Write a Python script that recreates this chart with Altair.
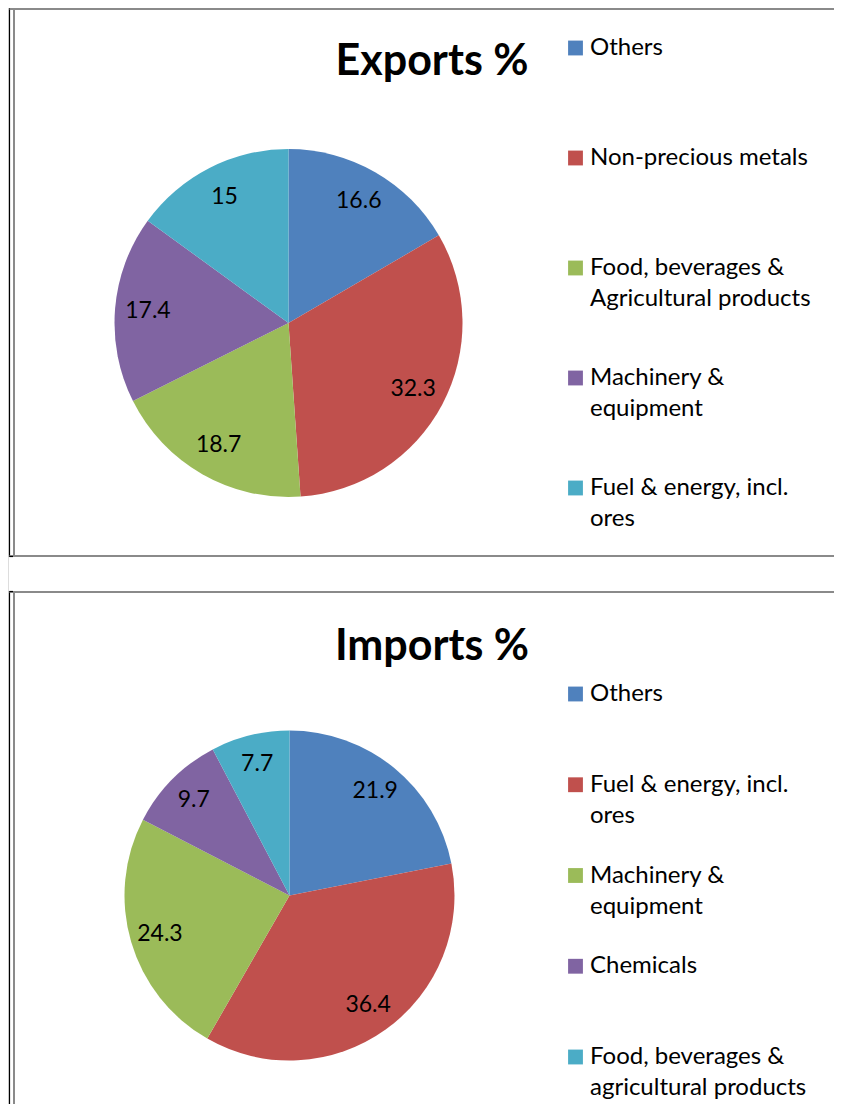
import altair as alt
import pandas as pd

FONT = "Lato"

exp_cats = ["Others", "Non-precious metals", "Food, beverages &\nAgricultural products",
            "Machinery &\nequipment", "Fuel & energy, incl.\nores"]
exp_vals = [16.6, 32.3, 18.7, 17.4, 15]

imp_cats = ["Others", "Fuel & energy, incl.\nores", "Machinery &\nequipment",
            "Chemicals", "Food, beverages &\nagricultural products"]
imp_vals = [21.9, 36.4, 24.3, 9.7, 7.7]

palette = ["#4F81BD", "#C0504D", "#9BBB59", "#8064A2", "#4BACC6"]


def frame(cats, vals):
    return pd.DataFrame({"cat": cats, "val": vals, "idx": list(range(len(cats))),
                         "lab": [f"{v:g}" for v in vals]})


def pie_layers(df, cx, cy, r, lr, title, ty, leg_top, leg_bot):
    color = alt.Color("idx:N", scale=alt.Scale(domain=list(range(5)), range=palette), legend=None)
    base = alt.Chart(df)
    arc = base.mark_arc(outerRadius=r).encode(
        theta=alt.Theta("val:Q", stack=True),
        color=color,
        order=alt.Order("idx:Q"),
        x=alt.value(cx), y=alt.value(cy),
    )
    txt = base.mark_text(font=FONT, fontSize=23, color="#000000").encode(
        theta=alt.Theta("val:Q", stack=True),
        order=alt.Order("idx:Q"),
        radius=alt.value(lr),
        text="lab:N",
        x=alt.value(cx), y=alt.value(cy),
    )
    ttl = alt.Chart(alt.Data(values=[{"t": title}])).mark_text(
        font=FONT, fontSize=43, fontWeight="bold", color="#000000"
    ).encode(text="t:N", x=alt.value(424), y=alt.value(ty))
    ly = alt.Y("idx:O", axis=None, scale=alt.Scale(type="point", range=[leg_top, leg_bot], padding=0))
    sq = base.mark_square(size=220, opacity=1).encode(
        x=alt.value(567.5), y=ly, color=color
    )
    lt = base.mark_text(font=FONT, fontSize=24, align="left", baseline="middle",
                        lineBreak="\n", lineHeight=31, color="#000000").encode(
        x=alt.value(582), y=ly, text="cat:N"
    )
    return [arc, txt, ttl, sq, lt]


one = alt.Data(values=[{}])


def rule(x, x2, y, y2, col, w):
    return alt.Chart(one).mark_rule(color=col, strokeWidth=w).encode(
        x=alt.value(x), x2=alt.value(x2), y=alt.value(y), y2=alt.value(y2))


W = 826
H = 1096
borders = [
    rule(1.5, 1.5, 0, 549, "#000000", 1.2),
    rule(6, 6, 1, 548, "#8a8a8a", 2),
    rule(1.5, W, 1, 1, "#8a8a8a", 2),
    rule(1.5, W, 548, 548, "#8a8a8a", 2),
    rule(1.5, 5, 548.5, 548.5, "#000000", 1.2),
    rule(1.5, 1.5, 583, H, "#000000", 1.2),
    rule(6, 6, 584, H, "#8a8a8a", 2),
    rule(1.5, W, 584, 584, "#8a8a8a", 2),
    rule(1.5, 5, 583.5, 583.5, "#000000", 1.2),
]

top = pie_layers(frame(exp_cats, exp_vals), 280.5, 315, 174, 141, "Exports %", 54, 40, 480)
bot = pie_layers(frame(imp_cats, imp_vals), 281.5, 887.5, 165, 135, "Imports %", 639, 686, 1049)

chart = alt.layer(*borders, *top, *bot).resolve_scale(
    y="independent", color="independent", theta="independent"
).properties(
    width=W, height=H, padding=0, autosize=alt.AutoSizeParams(type="none")
).configure_view(stroke=None).configure(background="#ffffff")

chart.save("out.html", embed_options={"renderer": "svg", "actions": False})
